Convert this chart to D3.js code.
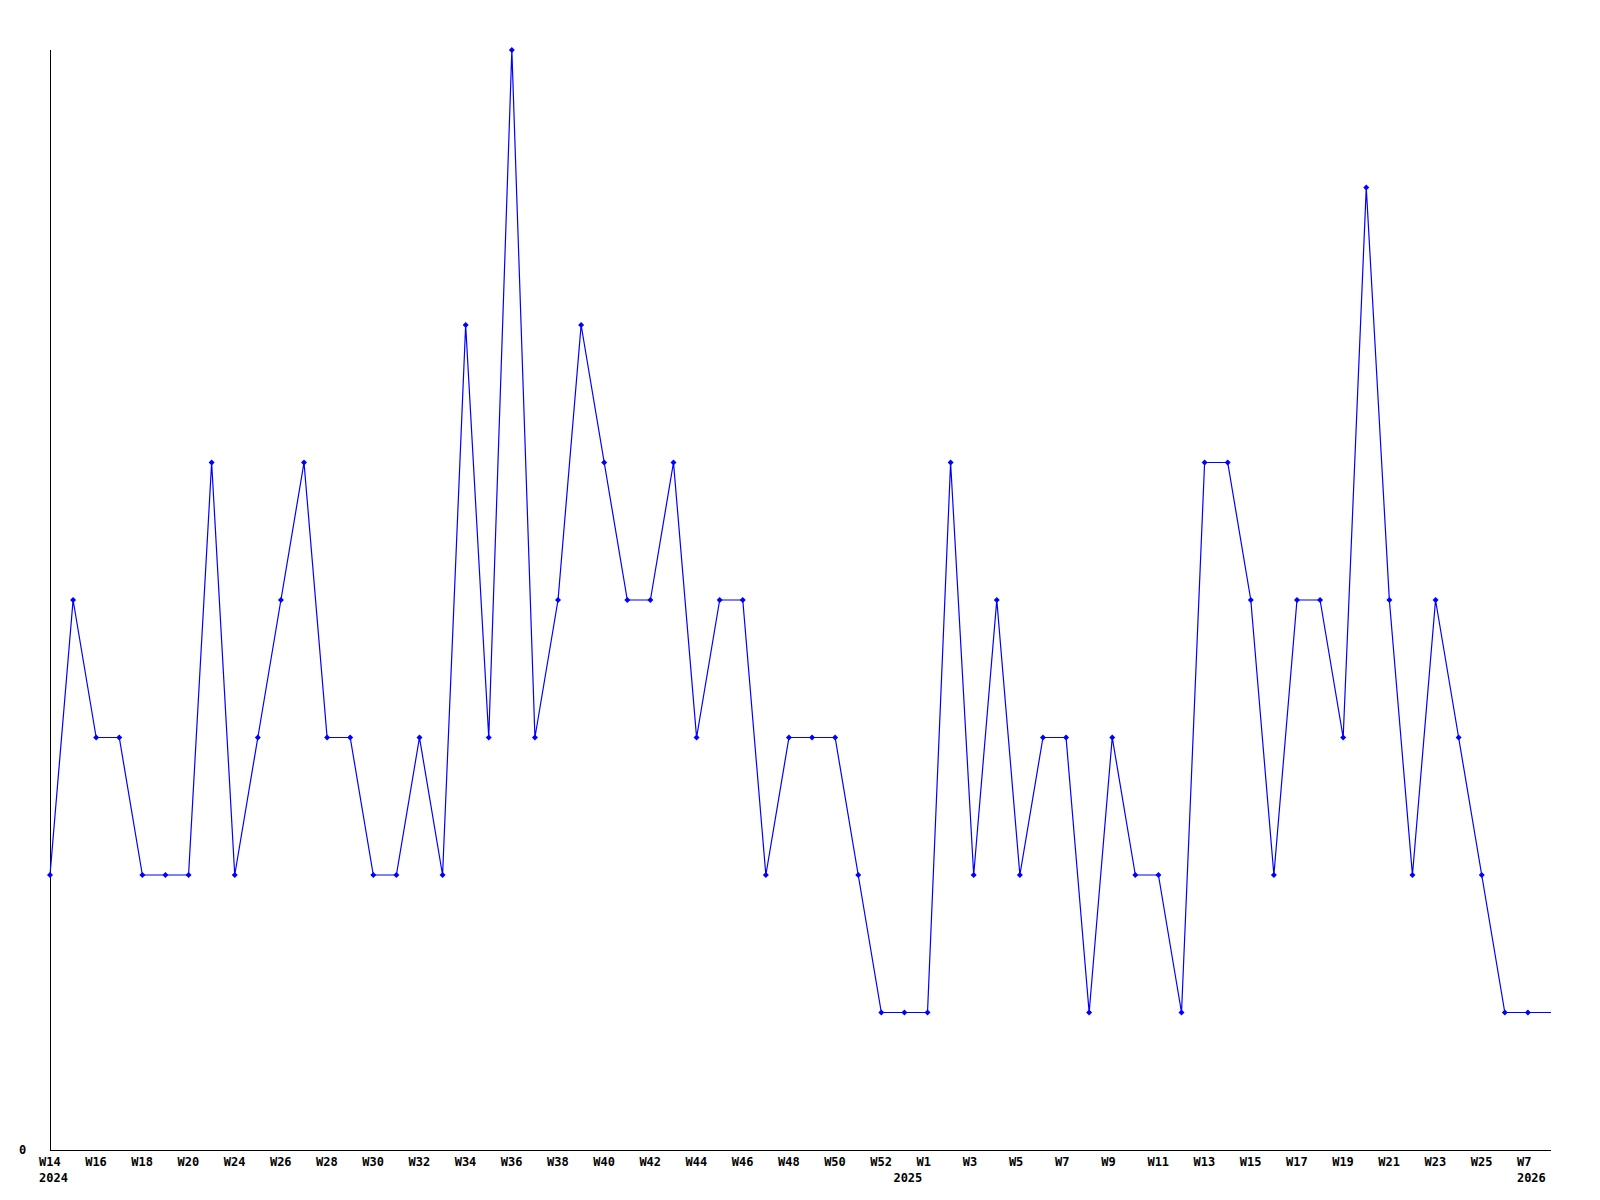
<!DOCTYPE html>
<html>
<head>
<meta charset="utf-8">
<script src="https://cdn.jsdelivr.net/npm/d3@7"></script>
<style>
  body { margin: 0; background: #fff; }
  text { font-family: "DejaVu Sans Mono", "Liberation Mono", monospace; font-weight: bold; font-size: 12px; fill: #000; }
</style>
</head>
<body>
<div id="chart"></div>
<script>
// weekly values, one per category
var values = [2,4,3,3,2,2,2,5,2,3,4,5,3,3,2,2,3,2,6,3,8,3,4,6,5,4,4,5,3,4,4,2,3,3,3,2,
              1,1,1,5,2,4,2,3,3,1,3,2,2,1,5,5,4,2,4,4,3,7,4,2,4,3,2,1,1,1];

// label shown under every second category
var tickLabels = ["W14","W16","W18","W20","W24","W26","W28","W30","W32","W34","W36","W38",
                  "W40","W42","W44","W46","W48","W50","W52","W1","W3","W5","W7","W9","W11",
                  "W13","W15","W17","W19","W21","W23","W25","W7"];
var yearLabels = [{i: 0, text: "2024"}, {i: 37, text: "2025"}, {i: 64, text: "2026"}];
var yTicks = [0];

var w = 1600, h = 1200;
var padL = 50, padR = 1551, padT = 50, padB = 1150;

var svg = d3.select("#chart").append("svg")
  .attr("width", w)
  .attr("height", h);

var x = d3.scaleLinear()
  .domain([0, values.length - 1])
  .range([padL, padR]);

var y = d3.scaleLinear()
  .domain([0, d3.max(values)])
  .range([padB, padT]);

// axes
svg.append("line")
  .attr("x1", padL + 0.5).attr("x2", padL + 0.5)
  .attr("y1", padT).attr("y2", padB + 0.5)
  .attr("stroke", "#000").attr("stroke-width", 1);
svg.append("line")
  .attr("x1", padL).attr("x2", padR)
  .attr("y1", padB + 0.5).attr("y2", padB + 0.5)
  .attr("stroke", "#000").attr("stroke-width", 1);

svg.selectAll(".ylab")
  .data(yTicks)
  .enter()
  .append("text")
  .attr("class", "ylab")
  .attr("x", 19)
  .attr("y", function(d) { return y(d) + 4; })
  .text(function(d) { return d; });

// labels start a little left of their point
svg.selectAll(".xlab")
  .data(tickLabels)
  .enter()
  .append("text")
  .attr("class", "xlab")
  .attr("x", function(d, i) { return x(i * 2) - 11; })
  .attr("y", 1166)
  .text(function(d) { return d; });

svg.selectAll(".year")
  .data(yearLabels)
  .enter()
  .append("text")
  .attr("class", "year")
  .attr("x", function(d) { return x(d.i) - 11; })
  .attr("y", 1182)
  .text(function(d) { return d.text; });

// line
var line = d3.line()
  .x(function(d, i) { return x(i); })
  .y(function(d) { return y(d); });

svg.append("path")
  .datum(values)
  .attr("d", line)
  .attr("fill", "none")
  .attr("stroke", "#0000ff")
  .attr("stroke-width", 1.2);

// markers (the last point sits on the edge and has none)
svg.selectAll(".pt")
  .data(values.slice(0, values.length - 1))
  .enter()
  .append("path")
  .attr("class", "pt")
  .attr("transform", function(d, i) { return "translate(" + x(i) + "," + y(d) + ")"; })
  .attr("d", "M0,-3L3,0L0,3L-3,0Z")
  .attr("fill", "#0000ff");
</script>
</body>
</html>
